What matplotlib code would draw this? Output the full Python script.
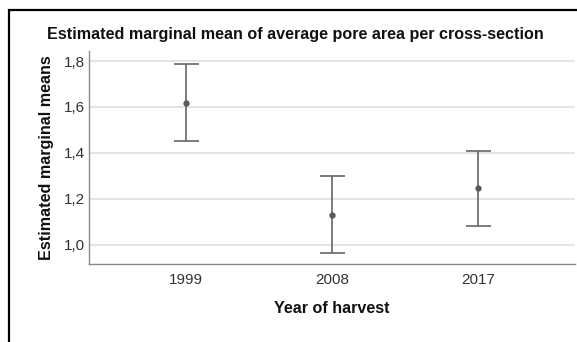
import matplotlib.pyplot as plt
from matplotlib.patches import Rectangle
from matplotlib.ticker import FuncFormatter

# dados
years = ['1999', '2008', '2017']
means = [1.617, 1.129, 1.247]
upper = [1.786, 1.297, 1.409]
lower = [1.452, 0.962, 1.081]
yticks = [1.0, 1.2, 1.4, 1.6, 1.8]

plt.rcParams['font.family'] = ['Liberation Sans', 'DejaVu Sans']

fig = plt.figure(figsize=(5.77, 3.42), dpi=100)
ax = fig.add_axes([0.1537, 0.2272, 0.843, 0.6237])

# moldura preta (continua fora da imagem à direita e em baixo)
fig.patches.append(Rectangle((9 / 577, -0.1), 1.2, 1.1 - 10 / 342, transform=fig.transFigure,
                             fill=False, edgecolor='black', linewidth=1.6))

x = list(range(len(years)))
err_low = [m - l for m, l in zip(means, lower)]
err_up = [u - m for u, m in zip(upper, means)]
ax.errorbar(x, means, yerr=[err_low, err_up], fmt='o', color='#5a5a5a', ecolor='#666666',
            markersize=3.5, elinewidth=1.2, capsize=9, capthick=1.2, zorder=3)

ax.set_xlim(-0.663, 2.661)
ax.set_ylim(0.914, 1.844)
ax.set_xticks(x)
ax.set_xticklabels(years)
ax.set_yticks(yticks)
ax.yaxis.set_major_formatter(FuncFormatter(lambda v, p: ('%.1f' % v).replace('.', ',')))
ax.tick_params(length=0, labelsize=11, colors='#333333')
ax.tick_params(axis='y', pad=3)
ax.tick_params(axis='x', pad=6)

ax.grid(axis='y', color='#dcdcdc', linewidth=1.1)
ax.set_axisbelow(True)
for s in ['top', 'right']:
    ax.spines[s].set_visible(False)
for s in ['left', 'bottom']:
    ax.spines[s].set_color('#8a8a8a')
    ax.spines[s].set_linewidth(1.0)

fig.text((48 + 543) / 2 / 577, 1 - 35 / 342, 'Estimated marginal mean of average pore area per cross-section',
         ha='center', va='center', fontsize=11.6, fontweight='bold', color='#111111')
ax.set_ylabel('Estimated marginal means', fontsize=11.6, fontweight='bold', color='#111111', labelpad=7)
ax.set_xlabel('Year of harvest', fontsize=11.6, fontweight='bold', color='#111111', labelpad=10)

fig.savefig('out.png', dpi=100)
